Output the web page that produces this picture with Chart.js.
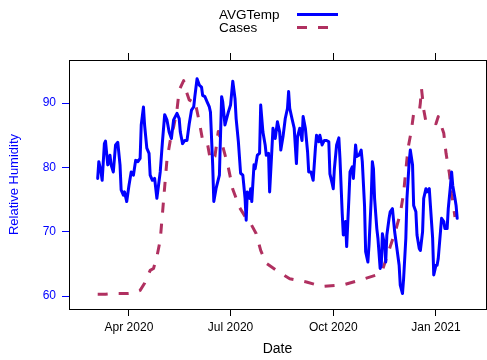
<!DOCTYPE html>
<html>
<head>
<meta charset="utf-8">
<script src="https://cdn.jsdelivr.net/npm/chart.js@4.4.0/dist/chart.umd.min.js"></script>
<style>
body { margin: 0; background: #fff; }
</style>
</head>
<body>
<canvas id="myChart" width="487" height="360"></canvas>
<script>
// days counted from 1 Mar 2020
const tempDays = [3, 4, 6, 7, 9, 10, 12, 14, 15, 17, 19, 21, 23, 24, 26, 27, 29, 31, 33, 35, 37, 39, 41, 42, 44, 45, 47, 49, 50, 52,
    54, 56, 59, 61, 63, 65, 67, 69, 71, 74, 76, 77, 79, 81, 83, 85, 87, 89, 90, 92, 94, 96, 97, 99, 101, 103, 104, 106, 107, 109,
    112, 114, 115, 117, 120, 122, 124, 126, 127, 129, 131, 133, 135, 136, 137, 139, 140, 141, 143, 144, 146, 148, 149, 151, 153, 154, 156, 157, 159, 160,
    162, 164, 166, 167, 169, 171, 173, 174, 175, 177, 179, 181, 182, 184, 186, 187, 189, 191, 192, 194, 196, 198, 199, 201, 202, 204, 206, 208, 210, 211,
    213, 214, 215, 217, 219, 220, 222, 223, 225, 226, 228, 229, 231, 232, 234, 235, 237, 239, 240, 242, 243, 245, 246, 248, 249, 250, 251, 253, 254, 256,
    257, 258, 260, 261, 262, 264, 265, 267, 269, 271, 273, 274, 276, 277, 279, 280, 282, 283, 285, 286, 288, 289, 291, 292, 294, 295, 297, 298, 300, 301,
    303, 304, 306, 307, 308, 310, 311, 313, 314, 316, 317, 319, 320, 321, 323, 324, 325];
const avgTemp = [78.3, 80.9, 79.3, 78.0, 83.7, 84.1, 80.4, 81.9, 80.4, 79.3, 83.5, 83.9, 80.4, 76.5, 75.7, 76.2, 74.7, 77.2, 79.3, 78.8, 81.1, 80.9, 81.4, 86.6, 89.4, 86.6, 83.0, 82.2, 78.8, 78.0,
    78.3, 75.2, 79.3, 84.0, 88.2, 87.4, 85.5, 84.5, 87.4, 88.4, 87.6, 85.5, 83.7, 84.2, 84.2, 86.8, 88.9, 89.4, 91.0, 93.8, 92.8, 92.5, 91.2, 91.0, 90.2, 89.4, 88.6, 80.4, 74.7, 76.7,
    78.8, 91.0, 90.2, 86.6, 88.6, 89.7, 93.4, 90.7, 87.6, 84.0, 79.1, 78.8, 75.2, 71.8, 76.2, 75.2, 76.7, 74.7, 80.4, 79.8, 81.9, 82.2, 89.7, 85.5, 83.5, 81.9, 82.2, 76.2, 82.7, 86.1,
    84.5, 87.1, 85.5, 82.7, 84.8, 87.6, 89.2, 91.8, 89.2, 87.6, 86.1, 80.6, 84.8, 86.1, 84.2, 87.9, 86.1, 82.4, 79.3, 79.3, 78.0, 83.0, 85.0, 84.0, 85.0, 83.5, 84.2, 84.2, 84.0, 79.0,
    77.5, 76.7, 79.8, 83.5, 84.6, 81.4, 72.9, 69.5, 71.6, 67.7, 75.2, 79.3, 80.1, 78.3, 83.5, 81.7, 81.9, 82.7, 80.9, 74.1, 66.9, 65.3, 67.9, 75.2, 80.9, 79.8, 75.2, 70.5, 69.0, 64.3,
    64.8, 69.7, 67.9, 65.3, 69.5, 72.1, 73.1, 73.6, 70.0, 67.4, 64.8, 61.7, 60.4, 62.7, 69.0, 75.2, 80.9, 82.7, 80.4, 74.1, 73.1, 69.5, 67.4, 67.1, 70.0, 75.2, 76.7, 76.2, 76.7, 74.1,
    69.0, 63.3, 64.8, 64.8, 65.8, 70.0, 72.1, 71.6, 70.5, 70.5, 73.6, 77.2, 79.3, 77.2, 75.2, 74.1, 72.1];

const caseDays = [3, 10, 16, 23, 29, 36, 41, 45, 50, 53, 56, 59, 61, 63, 65, 68, 71, 74, 76, 80, 82, 85, 88, 90, 94, 97, 101, 104, 108, 111,
    115, 120, 124, 130, 136, 140, 145, 149, 154, 163, 175, 190, 204, 224, 240, 253, 258, 262, 265, 270, 274, 277, 279, 281, 284, 286, 291, 292, 293, 295,
    297, 302, 306, 308, 313, 315, 318, 320, 323];
const cases = [60.3, 60.3, 60.4, 60.4, 60.4, 60.5, 60.9, 62.0, 64.0, 64.3, 66.1, 68.7, 72.8, 77.0, 81.1, 84.2, 86.3, 88.9, 92.0, 93.5, 92.0, 90.5, 90.2, 90.4, 87.1, 84.2, 84.0, 81.1, 81.7, 85.6,
    83.3, 80.0, 76.6, 73.8, 72.1, 71.3, 69.7, 67.1, 65.1, 64.0, 62.7, 62.2, 61.5, 61.8, 62.6, 63.3, 64.0, 66.1, 67.7, 70.3, 72.8, 76.0, 79.6, 83.0, 85.8, 88.4, 88.6, 90.0, 92.3, 89.0,
    87.1, 87.1, 86.8, 87.9, 85.3, 82.2, 79.1, 76.0, 72.3];

const tickDays = [31, 122, 214, 306];
const tickLabels = ['Apr 2020', 'Jul 2020', 'Oct 2020', 'Jan 2021'];
const humidityTicks = [60, 70, 80, 90];

function toPoints(days, values) {
    return days.map((d, i) => ({ x: d, y: values[i] }));
}

Chart.defaults.font.family = '"Liberation Sans", Arial, sans-serif';

// box around the plot area
const boxPlugin = {
    id: 'box',
    afterDraw(chart) {
        const a = chart.chartArea;
        const c = chart.ctx;
        c.save();
        c.strokeStyle = '#000';
        c.lineWidth = 1;
        c.strokeRect(a.left + 0.5, a.top + 0.5, a.right - a.left, a.bottom - a.top);
        c.restore();
    }
};

// legend: text on the left, line sample on the right
const legendPlugin = {
    id: 'sideLegend',
    afterDraw(chart) {
        const c = chart.ctx;
        c.save();
        c.font = '13.5px "Liberation Sans", Arial, sans-serif';
        c.textBaseline = 'middle';
        c.fillStyle = '#000';
        chart.data.datasets.forEach((ds, i) => {
            const y = 15 + i * 13;
            c.fillText(ds.label, 219, y);
            c.strokeStyle = ds.borderColor;
            c.lineWidth = ds.borderWidth;
            c.setLineDash(ds.borderDash || []);
            c.beginPath();
            c.moveTo(297, y - 0.5);
            c.lineTo(338, y - 0.5);
            c.stroke();
        });
        c.restore();
    }
};

function setDateTicks(scale) {
    scale.ticks = tickDays.map(v => ({ value: v }));
}

var ctx = document.getElementById('myChart').getContext('2d');

var myChart = new Chart(ctx, {
    type: 'line',
    data: {
        datasets: [
            {
                label: 'AVGTemp',
                data: toPoints(tempDays, avgTemp),
                borderColor: '#0000FF',
                borderWidth: 3,
                borderJoinStyle: 'round',
                borderCapStyle: 'round',
                pointRadius: 0,
                fill: false
            },
            {
                label: 'Cases',
                data: toPoints(caseDays, cases),
                borderColor: '#B03060',
                borderWidth: 3,
                borderDash: [10, 11],
                borderJoinStyle: 'round',
                pointRadius: 0,
                fill: false
            }
        ]
    },
    options: {
        responsive: false,
        animation: false,
        devicePixelRatio: 1,
        layout: { padding: { left: 0, right: 1, top: 0, bottom: 0 } },
        plugins: {
            legend: { display: false },
            tooltip: { enabled: false }
        },
        scales: {
            x: {
                type: 'linear',
                position: 'bottom',
                min: -22.7,
                max: 350.8,
                afterBuildTicks: setDateTicks,
                afterFit: s => { s.height = 51; },
                ticks: {
                    callback: (v, i) => tickLabels[i],
                    color: '#000',
                    font: { size: 12 },
                    padding: 4,
                    maxRotation: 0,
                    autoSkip: false
                },
                grid: { drawOnChartArea: false, tickLength: 7, color: '#000' },
                border: { display: false },
                title: {
                    display: true,
                    text: 'Date',
                    color: '#000',
                    font: { size: 14 },
                    padding: { top: 0, bottom: 2 }
                }
            },
            xTop: {
                type: 'linear',
                position: 'top',
                min: -22.7,
                max: 350.8,
                afterBuildTicks: setDateTicks,
                afterFit: s => { s.height = 60; },
                ticks: { display: false },
                grid: { drawOnChartArea: false, tickLength: 7, color: '#000' },
                border: { display: false }
            },
            y: {
                min: 58,
                max: 96.7,
                afterBuildTicks: s => { s.ticks = humidityTicks.map(v => ({ value: v })); },
                afterFit: s => { s.width = 69; },
                ticks: {
                    color: '#0000FF',
                    font: { size: 12 },
                    padding: 6
                },
                grid: { drawOnChartArea: false, tickLength: 7, color: '#0000FF' },
                border: { display: false },
                title: {
                    display: true,
                    text: 'Relative Humidity',
                    color: '#0000FF',
                    font: { size: 13 },
                    padding: { top: 7, bottom: 0 }
                }
            }
        }
    },
    plugins: [boxPlugin, legendPlugin]
});
</script>
</body>
</html>
